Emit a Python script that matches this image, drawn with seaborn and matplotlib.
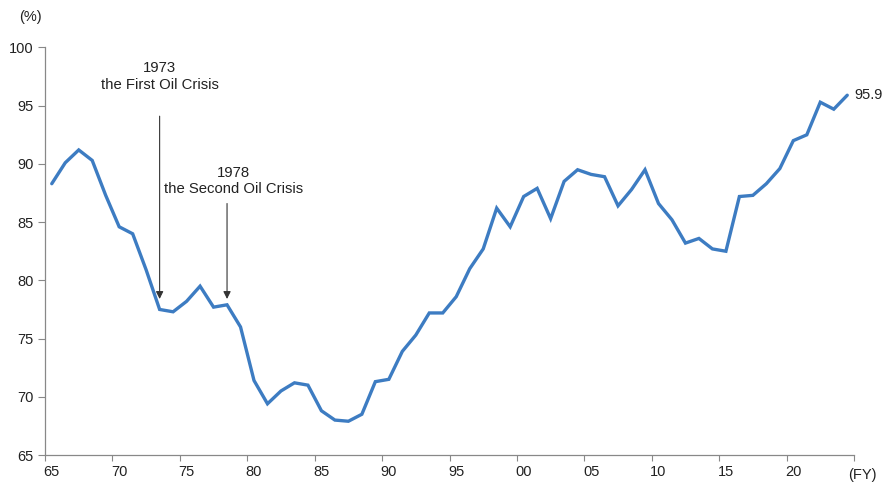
import numpy as np
import pandas as pd
import matplotlib
matplotlib.use("Agg")
import matplotlib.pyplot as plt
import seaborn as sns

# Fiscal years and ratio (%)
years = list(range(1965, 2025))
ratio = [
    88.3, 90.1, 91.2, 90.3, 87.3, 84.6, 84.0, 80.9, 77.5, 77.3,
    78.2, 79.5, 77.7, 77.9, 76.0, 71.4, 69.4, 70.5, 71.2, 71.0,
    68.8, 68.0, 67.9, 68.5, 71.3, 71.5, 73.9, 75.3, 77.2, 77.2,
    78.6, 81.0, 82.7, 86.2, 84.6, 87.2, 87.9, 85.3, 88.5, 89.5,
    89.1, 88.9, 86.4, 87.8, 89.5, 86.6, 85.2, 83.2, 83.6, 82.7,
    82.5, 87.2, 87.3, 88.3, 89.6, 92.0, 92.5, 95.3, 94.7, 95.9,
]
tick_years = list(range(1965, 2025, 5))
tick_labels = ["65", "70", "75", "80", "85", "90", "95", "00", "05", "10", "15", "20"]
y_ticks = [65, 70, 75, 80, 85, 90, 95, 100]

# (year, caption, arrow start, arrow tip, caption centre, caption x offset)
events = [
    (1973, "1973\nthe First Oil Crisis", 94.1, 78.4, 97.5, 0.0),
    (1978, "1978\nthe Second Oil Crisis", 86.6, 78.4, 88.5, 0.5),
]
last_label = "95.9"

sns.set_theme(style="white")
plt.rcParams["font.family"] = ["Liberation Sans", "DejaVu Sans"]

df = pd.DataFrame({"pos": np.array(years) + 0.5, "ratio": ratio})

fig = plt.figure(figsize=(8.88, 4.84), dpi=100)
ax = fig.add_axes([0.0507, 0.0599, 0.9110, 0.8420])

sns.lineplot(data=df, x="pos", y="ratio", ax=ax, color="#3d7cc2",
             linewidth=2.4, solid_joinstyle="miter")

ax.set_xlim(1965, 2025)
ax.set_ylim(65, 100)
ax.set_xlabel("")
ax.set_ylabel("")

# Labels sit at category centres; tick marks sit at category edges
ax.set_xticks([y + 0.5 for y in tick_years])
ax.set_xticklabels(tick_labels)
ax.set_xticks(list(range(1965, 2026, 5)), minor=True)
ax.tick_params(axis="x", which="major", length=0, pad=7, labelsize=10.5,
               colors="#222222")
ax.tick_params(axis="x", which="minor", length=4, width=0.8, color="#888888",
               direction="out", bottom=True)
ax.set_yticks(y_ticks)
ax.tick_params(axis="y", length=5, width=0.8, color="#888888", direction="out",
               pad=3, labelsize=10.5, labelcolor="#222222", left=True)

for side in ["top", "right"]:
    ax.spines[side].set_visible(False)
for side in ["left", "bottom"]:
    ax.spines[side].set_color("#888888")
    ax.spines[side].set_linewidth(0.9)

# Oil crisis annotations
for yr, text, y_start, y_tip, y_text, dx in events:
    ax.annotate("", xy=(yr + 0.5, y_tip), xytext=(yr + 0.5, y_start),
                arrowprops=dict(arrowstyle="-|>", color="#333333", lw=0.8,
                                mutation_scale=11, shrinkA=0, shrinkB=0))
    ax.text(yr + 0.5 + dx, y_text, text, ha="center", va="center", fontsize=10.7,
            color="#222222", linespacing=1.2)

ax.text(years[-1] + 1.0, ratio[-1], last_label, ha="left", va="center",
        fontsize=10.5, color="#222222", clip_on=False)
fig.text(30 / 888, 1 - 17 / 484, "(%)", ha="center", va="center",
         fontsize=10.5, color="#222222")
fig.text(862 / 888, 1 - 475 / 484, "(FY)", ha="center", va="center",
         fontsize=10.5, color="#222222")

fig.savefig("out.png", dpi=100, facecolor="white")
